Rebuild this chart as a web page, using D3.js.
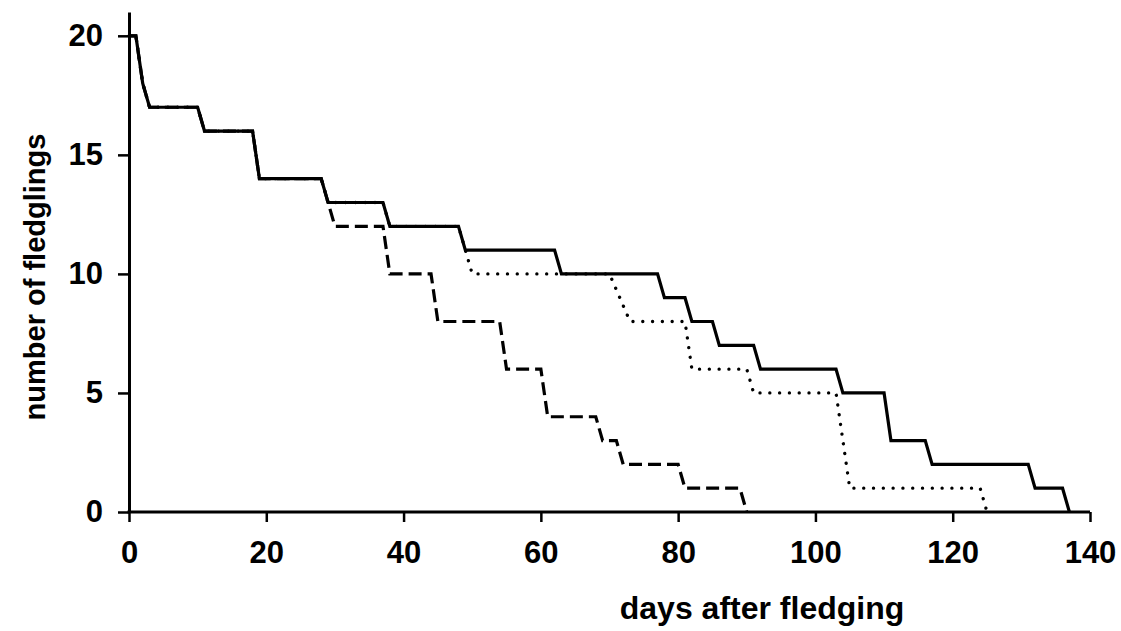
<!DOCTYPE html>
<html>
<head>
<meta charset="utf-8">
<script src="https://cdn.jsdelivr.net/npm/d3@7"></script>
<style>
  html, body { margin: 0; padding: 0; background: #fff; }
  svg { display: block; }
  text { font-family: "Liberation Sans", Arial, sans-serif; font-weight: bold; fill: #000; }
</style>
</head>
<body>
<svg id="chart" width="1121" height="631"></svg>
<script>
// ---- data ----
const solidDays  = [0,1,2,3,10,11,18,19,28,29,37,38,48,49,62,63,77,78,81,82,85,86,91,92,103,104,110,111,116,117,131,132,136,137];
const solidN     = [20,20,18,17,17,16,16,14,14,13,13,12,12,11,11,10,10,9,9,8,8,7,7,6,6,5,5,3,3,2,2,1,1,0];

const dashedDays = [0,1,2,3,10,11,18,19,28,30,37,38,44,45,54,55,60,61,68,69,71,72,80,81,89,90];
const dashedN    = [20,20,18,17,17,16,16,14,14,12,12,10,10,8,8,6,6,4,4,3,3,2,2,1,1,0];

const dottedDays = [0,1,2,3,10,11,18,19,28,29,37,38,48,50,70,73,81,82,90,91,103,105,124,125];
const dottedN    = [20,20,18,17,17,16,16,14,14,13,13,12,12,10,10,8,8,6,6,5,5,1,1,0];

const xTicks = [0,20,40,60,80,100,120,140];
const yTicks = [0,5,10,15,20];
const xTitle = "days after fledging";
const yTitle = "number of fledglings";

// ---- layout ----
const svg = d3.select("#chart");
const x = d3.scaleLinear().domain([0,140]).range([129,1090]);
const y = d3.scaleLinear().domain([0,21]).range([512,12]);

const line = d3.line().x(d => x(d[0])).y(d => y(d[1]));
const pts = (a,b) => a.map((d,i) => [d, b[i]]);

// series: dotted and dashed under the solid
svg.append("path")
  .attr("d", line(pts(dottedDays, dottedN)))
  .attr("fill","none").attr("stroke","#000").attr("stroke-width",3.3)
  .attr("stroke-linecap","round").attr("stroke-dasharray","0.1,9.7");

svg.append("path")
  .attr("d", line(pts(dashedDays, dashedN)))
  .attr("fill","none").attr("stroke","#000").attr("stroke-width",3.2)
  .attr("stroke-dasharray","13,6");

svg.append("path")
  .attr("d", line(pts(solidDays, solidN)))
  .attr("fill","none").attr("stroke","#000").attr("stroke-width",3.2)
  .attr("stroke-linejoin","miter");

// axes
const xAxis = d3.axisBottom(x).tickValues(xTicks).tickSize(10).tickSizeOuter(0).tickPadding(19);
const yAxis = d3.axisLeft(y).tickValues(yTicks).tickSize(11).tickSizeOuter(0).tickPadding(15);

const gx = svg.append("g").attr("transform","translate(0,512)").call(xAxis);
const gy = svg.append("g").attr("transform","translate(129,0)").call(yAxis);

[gx, gy].forEach(g => {
  g.select(".domain").attr("stroke","#000").attr("stroke-width",3);
  g.selectAll(".tick line").attr("stroke","#000").attr("stroke-width",2.5);
  g.selectAll(".tick text").style("font-size","31px").style("font-family","'Liberation Sans', Arial, sans-serif").style("font-weight","bold");
});
gx.select(".domain").attr("d", "M" + (x(0)-1.5) + ",0H" + x(140));

// titles
svg.append("text")
  .attr("x", 762).attr("y", 619)
  .attr("text-anchor","middle")
  .style("font-size","32px")
  .text(xTitle);

svg.append("text")
  .attr("transform","translate(45,277) rotate(-90)")
  .attr("text-anchor","middle")
  .style("font-size","29px")
  .text(yTitle);
</script>
</body>
</html>
